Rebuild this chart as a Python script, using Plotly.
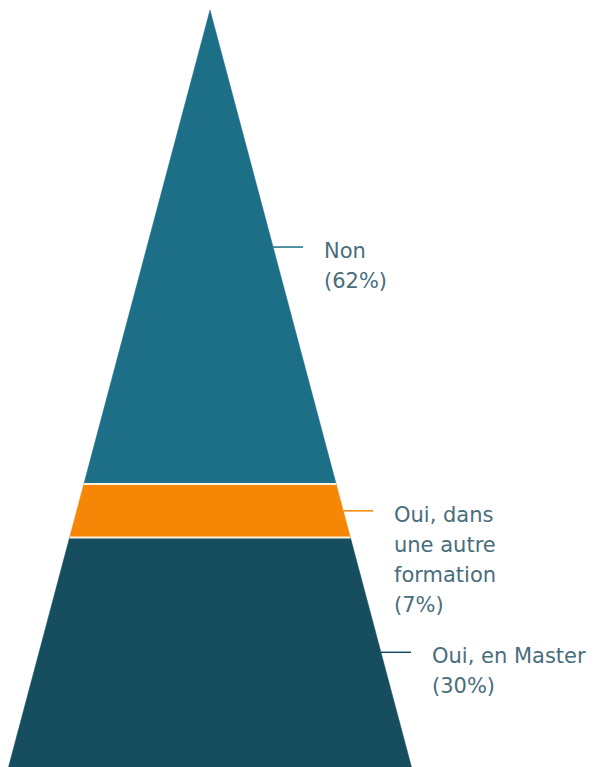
import plotly.graph_objects as go

# ---- data ----
categories = ["Non", "Oui, dans une autre formation", "Oui, en Master"]
label_lines = [["Non", "(62%)"], ["Oui, dans", "une autre", "formation", "(7%)"], ["Oui, en Master", "(30%)"]]
values = [62, 7, 30]

# ---- style ----
colors = ["#1d6f87", "#f68706", "#164e5f"]
line_colors = ["#1d6f87", "#f68706", "#164e5f"]
sep_color = "#fdf3dc"
text_color = "#4a6d7b"
cx = 210          # centre x of the pyramid (x-axis units = screen px)
k = 2.035         # half-width growth per value unit
lead_len = 30
gap = 19
line_px = 30
font_family = "DejaVu Sans"
font_size = 21
offset = 8        # page body margin

total = sum(values)
fig = go.Figure()
cum = 0
annotations = []
for i, (cat, v) in enumerate(zip(categories, values)):
    y0, y1 = cum, cum + v
    xs = [cx - k * y0, cx + k * y0, cx + k * y1, cx - k * y1, cx - k * y0]
    ys = [y0, y0, y1, y1, y0]
    fig.add_trace(go.Scatter(x=xs, y=ys, fill="toself", fillcolor=colors[i], mode="lines",
                             line=dict(color=colors[i], width=0.5), hoverinfo="skip", showlegend=False))
    if i > 0:
        fig.add_trace(go.Scatter(x=[cx - k * y0, cx + k * y0], y=[y0, y0], mode="lines",
                                 line=dict(color=sep_color, width=2), hoverinfo="skip", showlegend=False))
    ym = (y0 + y1) / 2
    xe = cx + k * ym
    fig.add_trace(go.Scatter(x=[xe, xe + lead_len], y=[ym, ym], mode="lines",
                             line=dict(color=line_colors[i], width=1.5), hoverinfo="skip", showlegend=False))
    for j, t in enumerate(label_lines[i]):
        annotations.append(dict(x=xe + lead_len + gap, y=ym, xref="x", yref="y", text=t, showarrow=False,
                                xanchor="left", yanchor="middle", yshift=-(4 + j * line_px),
                                font=dict(family=font_family, size=font_size, color=text_color)))
    cum = y1

scale = 757 / total
apex_px = 10
fig.update_layout(
    width=605, height=767, margin=dict(l=0, r=0, t=0, b=0),
    paper_bgcolor="white", plot_bgcolor="white",
    xaxis=dict(range=[offset, 605 + offset], visible=False, fixedrange=True),
    yaxis=dict(range=[(767 + offset - apex_px) / scale, -(apex_px - offset) / scale], visible=False, fixedrange=True),
    annotations=annotations,
)
fig.write_html("out.html")
